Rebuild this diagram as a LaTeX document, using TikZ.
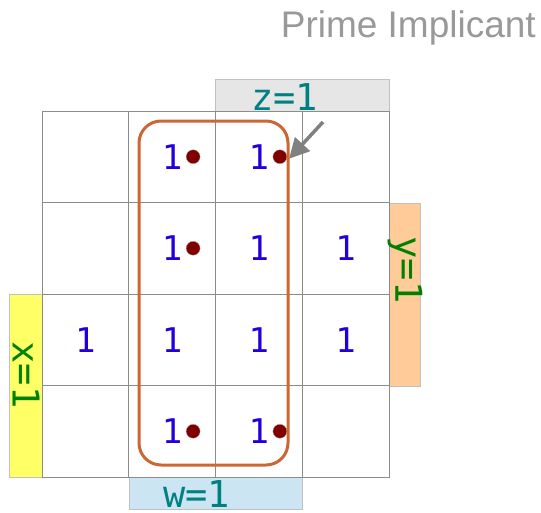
\documentclass[tikz,border=0pt]{standalone}
\usepackage{fontspec}
\setmainfont{Liberation Sans}
\newfontfamily\monof{DejaVu Sans Mono}
\usetikzlibrary{arrows.meta}
\definecolor{gridc}{HTML}{8C8C8C}
\definecolor{onec}{HTML}{2200DD}
\definecolor{tealc}{HTML}{008080}
\definecolor{greenc}{HTML}{008000}
\definecolor{titlec}{HTML}{999999}
\definecolor{dotc}{HTML}{800000}
\definecolor{loopc}{HTML}{CC6633}
\definecolor{peach}{HTML}{FFCC99}
\definecolor{yellowc}{HTML}{FFFF66}
\definecolor{bluec}{HTML}{CCE5F2}
\definecolor{grayc}{HTML}{E6E6E6}
\definecolor{barline}{HTML}{C0C0C0}
\begin{document}
\begin{tikzpicture}[x=1pt,y=-1pt,
  cell/.style={draw=gridc, line width=0.9pt, minimum width=86.75pt, minimum height=91.5pt, inner sep=0pt},
  one/.style={text=onec, font=\monof\fontsize{34}{34}\selectfont, inner sep=0pt},
  dotm/.style={circle, fill=dotc, draw=gray!60, line width=0.3pt, minimum size=14pt, inner sep=0pt},
  bar/.style={draw=barline, line width=0.8pt, inner sep=0pt},
  lblt/.style={text=tealc, font=\monof\fontsize{37}{37}\selectfont, inner sep=0pt},
  lblg/.style={text=greenc, font=\monof\fontsize{37}{37}\selectfont, inner sep=0pt},
  arrowst/.style={draw=gray, line width=3.5pt, -{Triangle[length=20pt,width=20pt]}},
  loopst/.style={draw=loopc, line width=3pt, rounded corners=22pt}
]
\useasboundingbox (0,0) rectangle (541,512);
% title
\node[anchor=base east, text=titlec, font=\fontsize{37}{37}\selectfont, inner sep=0pt] (title) at (536,37) {Prime Implicant};
% bars
\node[bar, fill=grayc, minimum width=174pt, minimum height=32pt] (zbar) at (302,95) {};
\node[bar, fill=peach, minimum width=31pt, minimum height=183pt] (ybar) at (404.5,294.5) {};
\node[bar, fill=yellowc, minimum width=33pt, minimum height=183pt] (xbar) at (25.5,385.5) {};
\node[bar, fill=bluec, minimum width=173pt, minimum height=32pt] (wbar) at (215.5,493) {};
% grid
\foreach \r in {1,...,4}
  \foreach \c in {1,...,4}
    \node[cell] (c\r\c) at ({42+86.75*(\c-0.5)}, {111+91.5*(\r-0.5)}) {};
% bar labels
\node[lblt, anchor=base west] (zl) at (251,110) {z=1};
\node[lblt, anchor=base west] (wl) at (163,507) {w=1};
\node[lblg, rotate=-90] (yl) at (405,270) {y=1};
\node[lblg, rotate=-90] (xl) at (26,375) {x=1};
% ones
\foreach \p in {12,13,22,23,24,31,32,33,34,42,43}
  \node[one] (o\p) at (c\p) {1};
% dots
\foreach \p in {12,13,22,42,43}
  \node[dotm] (d\p) at ([xshift=21pt]c\p.center) {};
% prime implicant loop
\draw[loopst] (139,121) rectangle (288,465);
% arrow
\coordinate (arrtail) at (323,122);
\draw[arrowst] (arrtail) -- ([shift={(2pt,-2pt)}]d13.east);
\end{tikzpicture}
\end{document}
